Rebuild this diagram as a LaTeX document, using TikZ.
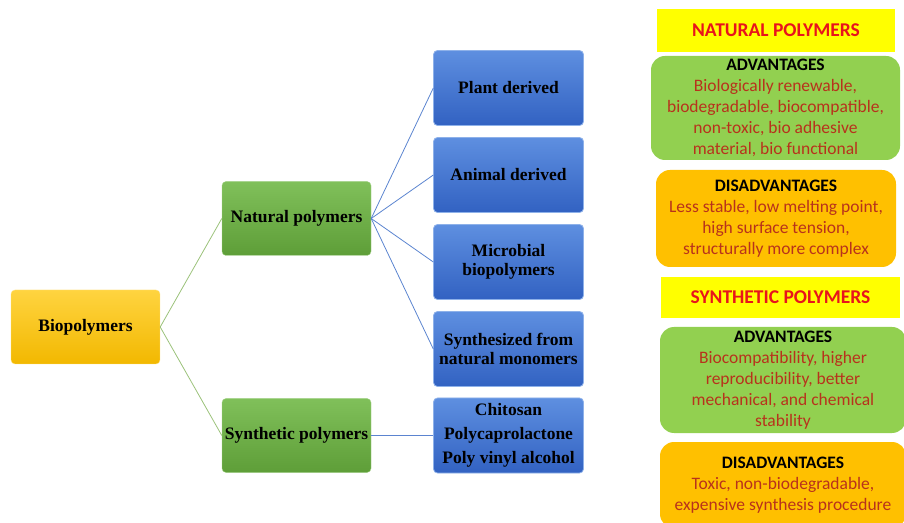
\documentclass[tikz,border=0pt]{standalone}
\usepackage{fontspec}
\setmainfont{Liberation Serif}
\newfontfamily\calibri{Carlito}
\usetikzlibrary{trees,shapes}

\definecolor{rootTop}{HTML}{FFD440}
\definecolor{rootBot}{HTML}{F2B800}
\definecolor{natTop}{HTML}{80C05A}
\definecolor{natBot}{HTML}{5E9E38}
\definecolor{subTop}{HTML}{5E8FE0}
\definecolor{subBot}{HTML}{3262C2}
\definecolor{greenLine}{HTML}{9BC27A}
\definecolor{blueLine}{HTML}{5B84D0}
\definecolor{advGreen}{HTML}{92D050}
\definecolor{disOrange}{HTML}{FFC000}
\definecolor{titleYellow}{HTML}{FFFF00}
\definecolor{titleRed}{HTML}{E8141C}
\definecolor{bodyRed}{HTML}{B8321C}

\begin{document}
\begin{tikzpicture}[x=1pt,y=1pt,
  treenode/.style = {shape=rectangle, rounded corners=4pt, align=center,
    font=\fontsize{17.5}{19}\selectfont\bfseries,
    minimum width=149pt, minimum height=74pt, inner sep=2pt},
  rootnode/.style = {treenode, draw=rootTop!70!white, top color=rootTop, bottom color=rootBot},
  greennode/.style = {treenode, draw=natTop!70!white, top color=natTop, bottom color=natBot},
  bluenode/.style = {treenode, draw=subTop!70!white, top color=subTop, bottom color=subBot,
    minimum width=150pt, minimum height=75pt},
  titlebox/.style = {shape=rectangle, fill=titleYellow, text=titleRed,
    font=\calibri\fontsize{19.5}{22}\selectfont\bfseries, inner sep=0pt},
  infobox/.style = {shape=rectangle, rounded corners=14pt, align=center, text=bodyRed,
    font=\calibri\fontsize{17.5}{21}\selectfont, inner sep=0pt},
  grow'=right, parent anchor=east, child anchor=west,
  level 1/.style={sibling distance=217pt, level distance=211pt,
    edge from parent/.style={draw=greenLine, line width=0.8pt}},
  level 2/.style={sibling distance=87pt, level distance=212pt,
    edge from parent/.style={draw=blueLine, line width=0.8pt}}
  ]
  \useasboundingbox (0,0) rectangle (904,522);

  % classification tree
  \node[rootnode] (bio) at (85.5,195) {Biopolymers}
    child { node[greennode] (natural) {Natural polymers}
      child { node[bluenode] (plant) {Plant derived} }
      child { node[bluenode] (animal) {Animal derived} }
      child { node[bluenode] (microbial) {Microbial\\biopolymers} }
      child { node[bluenode] (monomers) {Synthesized from\\natural monomers} }
    }
    child { node[greennode] (synthetic) {Synthetic polymers}
      child { node[bluenode] (examples) {Chitosan\\[5pt]Polycaprolactone\\[5pt]Poly vinyl alcohol} }
    };

  % natural polymers panel
  \node[titlebox, minimum width=238pt, minimum height=43pt] (natTitle) at (776,491.5) {NATURAL POLYMERS};
  \node[infobox, fill=advGreen, minimum width=249pt, minimum height=104pt] (natAdv) at (775.5,414)
    {{\color{black}\bfseries ADVANTAGES}\\Biologically renewable,\\biodegradable, biocompatible,\\non-toxic, bio adhesive\\material, bio functional};
  \node[infobox, fill=disOrange, minimum width=240pt, minimum height=97pt] (natDis) at (776,303.5)
    {{\color{black}\bfseries DISADVANTAGES}\\Less stable, low melting point,\\high surface tension,\\structurally more complex};

  % synthetic polymers panel
  \node[titlebox, minimum width=239pt, minimum height=41pt] (synTitle) at (780.5,224.5) {SYNTHETIC POLYMERS};
  \node[infobox, fill=advGreen, minimum width=246pt, minimum height=106pt] (synAdv) at (783,142)
    {{\color{black}\bfseries ADVANTAGES}\\Biocompatibility, higher\\reproducibility, better\\mechanical, and chemical\\stability};
  \node[infobox, fill=disOrange, minimum width=246pt, minimum height=86pt] (synDis) at (783,37)
    {{\color{black}\bfseries DISADVANTAGES}\\Toxic, non-biodegradable,\\expensive synthesis procedure};
\end{tikzpicture}
\end{document}
